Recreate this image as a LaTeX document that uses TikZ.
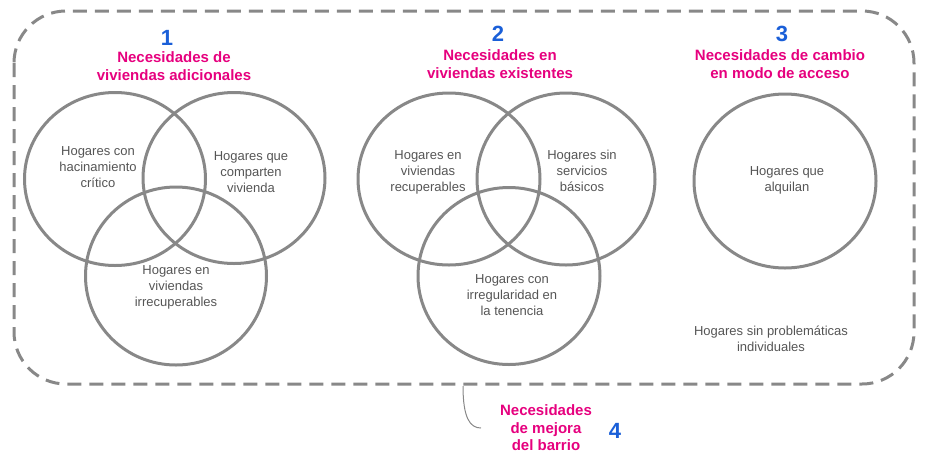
\documentclass[tikz,border=0pt]{standalone}
\usepackage{fontspec}
\setmainfont{Liberation Sans}
\usetikzlibrary{shapes.geometric}
\definecolor{ringgray}{HTML}{888888}
\definecolor{txtgray}{HTML}{555555}
\definecolor{pinkt}{HTML}{E6007E}
\definecolor{bluen}{HTML}{1A5FD8}
\tikzset{
  ring/.style={draw=ringgray, line width=3pt, ellipse, inner sep=0pt},
  intext/.style={text=txtgray, align=center, font=\fontsize{13}{16}\selectfont, inner sep=0pt},
  title/.style={text=pinkt, align=center, font=\bfseries\fontsize{15}{17.5}\selectfont, inner sep=0pt},
  num/.style={text=bluen, font=\bfseries\fontsize{22}{22}\selectfont, inner sep=0pt},
  frame/.style={draw=ringgray, line width=3pt, dash pattern=on 14pt off 8pt, rounded corners=52pt},
}
\begin{document}
\begin{tikzpicture}[x=1pt,y=-1pt]
\useasboundingbox (0,0) rectangle (927,459);
% frame
\draw[frame] (14,11) rectangle (914,384);
% group 1
\node[ring, minimum width=181pt, minimum height=173pt] (A) at (115,179) {};
\node[ring, minimum width=182pt, minimum height=171pt] (B) at (234,178) {};
\node[ring, minimum width=181pt, minimum height=178pt] (C) at (176,276) {};
\node[intext] (tA) at (98,167) {Hogares con\\hacinamiento\\crítico};
\node[intext] (tB) at (251,172) {Hogares que\\comparten\\vivienda};
\node[intext] (tC) at (176,287) {Hogares en\\viviendas\\irrecuperables};
\node[num] (n1) at (167,38) {1};
\node[title] (h1) at (174,66) {Necesidades de\\viviendas adicionales};
% group 2
\node[ring, minimum width=182pt, minimum height=172pt] (D) at (449,179) {};
\node[ring, minimum width=178pt, minimum height=172pt] (E) at (566,179) {};
\node[ring, minimum width=182pt, minimum height=177pt] (F) at (509,276) {};
\node[intext] (tD) at (428,172) {Hogares en\\viviendas\\recuperables};
\node[intext] (tE) at (582,171) {Hogares sin\\servicios\\básicos};
\node[intext] (tF) at (512,295) {Hogares con\\irregularidad en\\la tenencia};
\node[num] (n2) at (498,34) {2};
\node[title] (h2) at (500,64) {Necesidades en\\viviendas existentes};
% group 3
\node[ring, minimum width=182pt, minimum height=174pt] (G) at (785,181) {};
\node[intext] (tG) at (787,180) {Hogares que\\alquilan};
\node[num] (n3) at (782,34) {3};
\node[title] (h3) at (780,64) {Necesidades de cambio\\en modo de acceso};
\node[intext] (tH) at (771,339) {Hogares sin problemáticas\\individuales};
% group 4
\node[title] (h4) at (546,428) {Necesidades\\de mejora\\del barrio};
\node[num] (n4) at (615,431) {4};
\coordinate (b1) at (463,386);
\coordinate (b2) at (481,428);
\draw[ringgray, line width=1pt] (b1) .. controls (463,418) and (470,428) .. (b2);
\end{tikzpicture}
\end{document}
